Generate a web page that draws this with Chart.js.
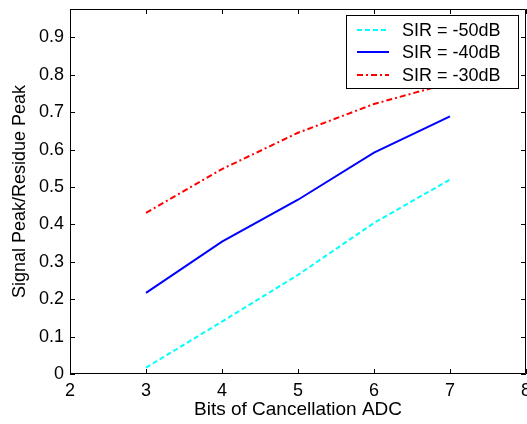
<!DOCTYPE html>
<html>
<head>
<meta charset="utf-8">
<script src="https://cdn.jsdelivr.net/npm/chart.js@4.4.0/dist/chart.umd.min.js"></script>
<style>
  html, body { margin: 0; padding: 0; background: #fff; }
</style>
</head>
<body>
<canvas id="c" width="527" height="424"></canvas>
<script>
// values
const bits = [3, 4, 5, 6, 7];
const sir50 = [0.017, 0.14, 0.265, 0.404, 0.52];
const sir40 = [0.217, 0.354, 0.466, 0.592, 0.689];
const sir30 = [0.431, 0.548, 0.645, 0.722, 0.778];
const xTicks = [2, 3, 4, 5, 6, 7, 8];
const yTicks = [0, 0.1, 0.2, 0.3, 0.4, 0.5, 0.6, 0.7, 0.8, 0.9];
const seriesLabels = ["SIR = -50dB", "SIR = -40dB", "SIR = -30dB"];

const FONT = "'Liberation Sans', Arial, sans-serif";
const toPoints = (ys) => bits.map((b, i) => ({ x: b, y: ys[i] }));

// box, inward ticks and legend drawn like a matlab figure
const frame = {
  id: "frame",
  afterDatasetsDraw(chart) {
    const ctx = chart.ctx;
    const a = chart.chartArea;
    const xs = chart.scales.x, ys = chart.scales.y;
    ctx.save();
    ctx.strokeStyle = "#000";
    ctx.lineWidth = 1;
    ctx.beginPath();
    ctx.rect(a.left + 0.5, a.top + 0.5, a.right - a.left - 1, a.bottom - a.top - 1);
    xTicks.forEach((v) => {
      const px = Math.round(xs.getPixelForValue(v)) + 0.5;
      ctx.moveTo(px, a.bottom); ctx.lineTo(px, a.bottom - 5);
      ctx.moveTo(px, a.top); ctx.lineTo(px, a.top + 5);
    });
    yTicks.forEach((v) => {
      const py = Math.round(ys.getPixelForValue(v)) + 0.5;
      ctx.moveTo(a.left, py); ctx.lineTo(a.left + 5, py);
      ctx.moveTo(a.right, py); ctx.lineTo(a.right - 5, py);
    });
    ctx.stroke();

    // legend
    const lx = 346, ly = 15, lw = 172, lh = 73;
    ctx.fillStyle = "#fff";
    ctx.fillRect(lx, ly, lw, lh);
    ctx.strokeRect(lx + 0.5, ly + 0.5, lw, lh);
    const rows = [30, 52, 75];
    chart.data.datasets.forEach((ds, i) => {
      ctx.beginPath();
      ctx.strokeStyle = ds.borderColor;
      ctx.lineWidth = 2;
      ctx.setLineDash(ds.borderDash || []);
      ctx.moveTo(357, rows[i]); ctx.lineTo(389, rows[i]);
      ctx.stroke();
      ctx.setLineDash([]);
      ctx.fillStyle = "#000";
      ctx.font = "18px " + FONT;
      ctx.textBaseline = "middle";
      ctx.textAlign = "left";
      ctx.fillText(ds.label, 402, rows[i] + 1);
    });
    ctx.restore();
  }
};

new Chart(document.getElementById("c"), {
  type: "line",
  data: {
    datasets: [
      { label: seriesLabels[0], data: toPoints(sir50), borderColor: "#00ffff", borderDash: [5, 3], borderWidth: 2, pointRadius: 0, fill: false },
      { label: seriesLabels[1], data: toPoints(sir40), borderColor: "#0000ff", borderWidth: 2, pointRadius: 0, fill: false },
      { label: seriesLabels[2], data: toPoints(sir30), borderColor: "#ff0000", borderDash: [6, 3, 2, 3], borderWidth: 2, pointRadius: 0, fill: false }
    ]
  },
  options: {
    responsive: false,
    devicePixelRatio: 1,
    animation: false,
    layout: { padding: { top: 9, right: 1, left: 0, bottom: 0 } },
    plugins: { legend: { display: false }, tooltip: { enabled: false } },
    scales: {
      x: {
        type: "linear",
        min: 2, max: 8,
        afterBuildTicks: (s) => { s.ticks = xTicks.map((v) => ({ value: v })); },
        afterFit: (s) => { s.height = 50; s.paddingLeft = 0; s.paddingRight = 0; },
        grid: { display: false, drawTicks: false },
        border: { display: false },
        ticks: { color: "#000", font: { family: FONT, size: 18 }, padding: 6, maxRotation: 0, autoSkip: false },
        title: { display: true, text: "Bits of Cancellation ADC", color: "#000", font: { family: FONT, size: 19 }, padding: { top: 0, bottom: 3 } }
      },
      y: {
        min: 0, max: 0.976,
        afterBuildTicks: (s) => { s.ticks = yTicks.map((v) => ({ value: v })); },
        afterFit: (s) => { s.width = 70; s.paddingTop = 0; s.paddingBottom = 0; },
        grid: { display: false, drawTicks: false },
        border: { display: false },
        ticks: { color: "#000", font: { family: FONT, size: 18 }, padding: 6, callback: (v) => (v === 0 ? "0" : v.toFixed(1)) },
        title: { display: true, text: "Signal Peak/Residue Peak", color: "#000", font: { family: FONT, size: 18 }, padding: { top: 9, bottom: 0 } }
      }
    }
  },
  plugins: [frame]
});
</script>
</body>
</html>
